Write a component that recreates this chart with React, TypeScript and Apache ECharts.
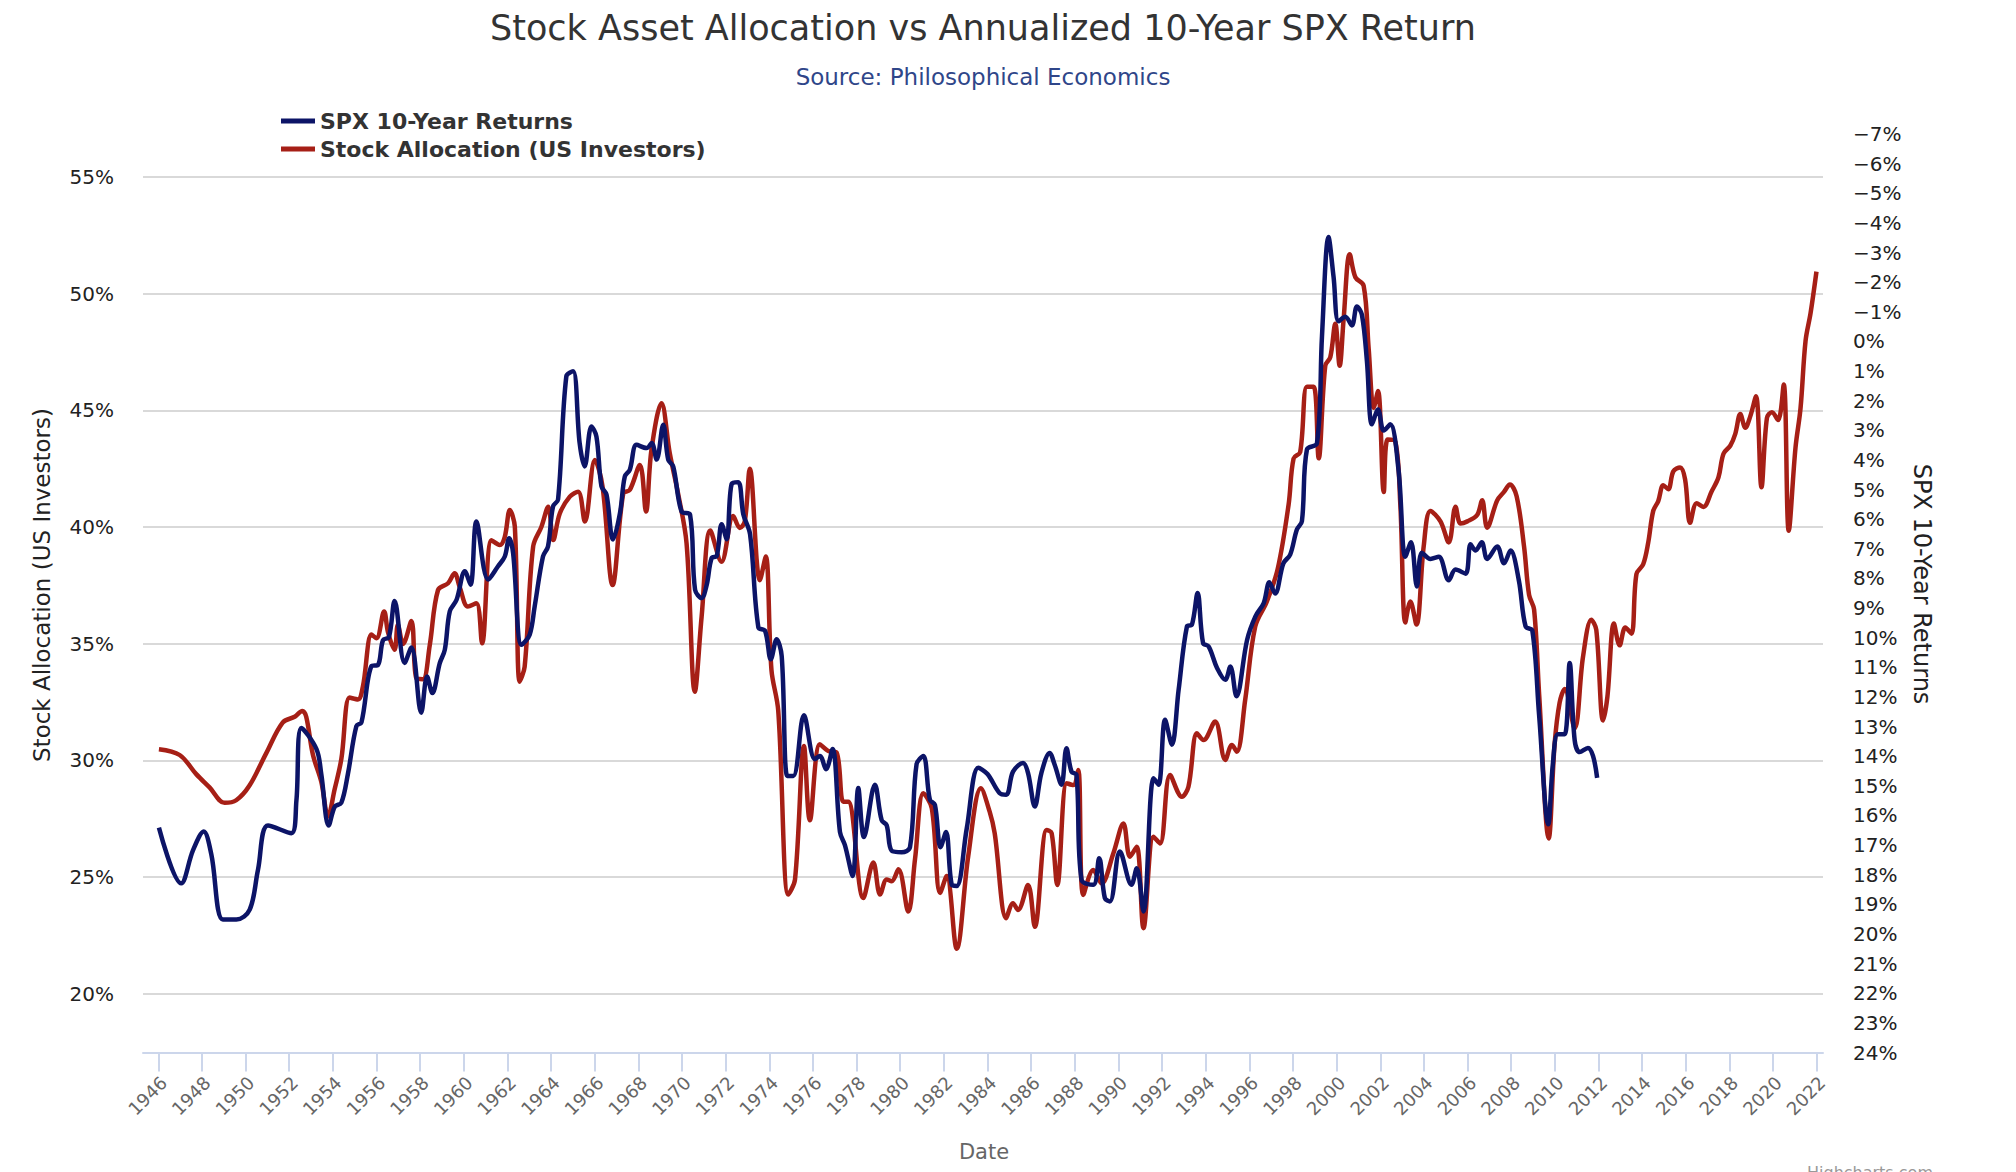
import React, { useEffect, useRef } from "react";
import * as echarts from "echarts";

// ---- Data ----
const xTickYears = [1946, 1948, 1950, 1952, 1954, 1956, 1958, 1960, 1962, 1964, 1966, 1968, 1970, 1972, 1974, 1976, 1978, 1980, 1982, 1984, 1986, 1988, 1990, 1992, 1994, 1996, 1998, 2000, 2002, 2004, 2006, 2008, 2010, 2012, 2014, 2016, 2018, 2020, 2022];

// Stock Allocation (US Investors), % (left axis)
const allocYears = [
  1946.03, 1946.98, 1947.74, 1948.35, 1949.04, 1949.57, 1950.18, 1950.95, 1951.70, 1952.25,
  1952.60, 1952.78, 1953.09, 1953.47, 1953.78, 1954.08, 1954.39, 1954.77, 1955.15, 1955.38,
  1955.77, 1956.00, 1956.35, 1956.53, 1956.83, 1956.98, 1957.22, 1957.60, 1957.83, 1958.13,
  1958.44, 1958.82, 1959.28, 1959.58, 1959.81, 1960.19, 1960.58, 1960.84, 1961.27, 1961.65,
  1961.88, 1962.11, 1962.34, 1962.56, 1962.79, 1963.18, 1963.56, 1963.87, 1964.10, 1964.40,
  1964.86, 1965.24, 1965.55, 1966.01, 1966.36, 1966.82, 1967.31, 1967.61, 1968.07, 1968.35,
  1968.60, 1969.06, 1969.44, 1969.82, 1970.21, 1970.59, 1970.90, 1971.30, 1971.81, 1972.35,
  1972.65, 1972.88, 1973.11, 1973.57, 1973.84, 1974.10, 1974.41, 1974.87, 1975.18, 1975.59,
  1975.86, 1976.32, 1976.71, 1977.09, 1977.39, 1977.62, 1978.31, 1978.77, 1979.08, 1979.38,
  1979.61, 1979.92, 1980.37, 1980.68, 1981.06, 1981.45, 1981.83, 1982.13, 1982.59, 1983.12,
  1983.70, 1984.10, 1984.33, 1984.86, 1985.17, 1985.40, 1985.86, 1986.17, 1986.71, 1986.94,
  1987.20, 1987.63, 1987.93, 1988.16, 1988.39, 1988.85, 1989.23, 1989.77, 1990.23, 1990.53,
  1990.84, 1991.15, 1991.61, 1991.91, 1992.37, 1992.91, 1993.21, 1993.60, 1993.90, 1994.43,
  1994.90, 1995.20, 1995.43, 1995.81, 1996.27, 1996.80, 1997.30, 1997.80, 1998.03, 1998.33,
  1998.64, 1998.95, 1999.18, 1999.48, 1999.71, 1999.94, 2000.14, 2000.32, 2000.60, 2000.86,
  2001.24, 2001.47, 2001.70, 2001.90, 2002.16, 2002.34, 2002.69, 2002.92, 2003.15, 2003.38,
  2003.66, 2003.99, 2004.30, 2004.76, 2005.14, 2005.45, 2005.68, 2005.99, 2006.44, 2006.67,
  2006.90, 2007.36, 2007.67, 2007.94, 2008.25, 2008.59, 2008.82, 2009.05, 2009.28, 2009.72,
  2009.99, 2010.22, 2010.45, 2010.91, 2011.29, 2011.67, 2011.90, 2012.21, 2012.41, 2012.71,
  2012.97, 2013.23, 2013.51, 2013.74, 2014.05, 2014.28, 2014.51, 2014.74, 2014.97, 2015.20,
  2015.43, 2015.74, 2015.97, 2016.20, 2016.50, 2016.81, 2017.19, 2017.50, 2017.73, 2018.04,
  2018.27, 2018.50, 2018.73, 2018.96, 2019.22, 2019.47, 2019.72, 2019.95, 2020.23, 2020.49,
  2020.72, 2021.03, 2021.26, 2021.49, 2021.72, 2021.99
];
const allocValues = [
  30.48, 30.23, 29.41, 28.84, 28.18, 28.29, 28.92, 30.31, 31.62, 31.87,
  32.12, 31.87, 30.23, 29.08, 27.60, 28.75, 30.06, 32.69, 32.61, 33.18,
  35.39, 35.23, 36.38, 35.48, 34.74, 35.81, 34.99, 35.97, 33.51, 33.48,
  34.93, 37.30, 37.59, 38.02, 37.44, 36.59, 36.73, 35.02, 39.43, 39.23,
  39.58, 40.73, 40.01, 33.37, 34.01, 39.16, 40.01, 40.87, 39.44, 40.58,
  41.30, 41.51, 40.23, 42.87, 41.73, 37.51, 41.44, 41.59, 42.66, 40.66,
  43.30, 45.30, 43.16, 41.44, 39.30, 32.94, 36.15, 39.85, 38.51, 40.47,
  39.96, 40.25, 42.50, 37.72, 38.73, 33.88, 32.14, 24.25, 24.90, 30.62,
  27.43, 30.69, 30.40, 30.33, 28.23, 28.23, 24.10, 25.62, 24.25, 24.90,
  24.82, 25.33, 23.52, 25.77, 28.59, 27.94, 24.32, 25.04, 21.93, 25.91,
  28.80, 27.80, 26.88, 23.24, 23.88, 23.59, 24.66, 22.87, 27.02, 26.88,
  24.66, 29.02, 28.94, 29.59, 24.23, 25.30, 24.73, 26.02, 27.30, 25.87,
  26.30, 22.81, 26.73, 26.44, 29.37, 28.44, 28.87, 31.16, 30.87, 31.66,
  30.02, 30.66, 30.37, 32.59, 35.73, 36.80, 38.20, 40.96, 42.94, 43.21,
  46.01, 46.01, 42.94, 46.91, 47.27, 48.71, 46.91, 48.89, 51.69, 50.70,
  50.33, 47.63, 45.11, 45.83, 41.50, 43.75, 43.66, 40.96, 35.91, 36.81,
  35.82, 39.16, 40.69, 40.24, 39.34, 40.87, 40.15, 40.24, 40.51, 41.14,
  39.97, 41.14, 41.50, 41.82, 41.32, 39.16, 37.09, 36.46, 32.85, 26.65,
  30.69, 32.47, 33.06, 31.37, 34.42, 36.03, 35.60, 31.71, 32.73, 35.86,
  34.93, 35.69, 35.43, 37.98, 38.40, 39.33, 40.69, 41.11, 41.79, 41.62,
  42.38, 42.55, 42.04, 40.18, 41.02, 40.86, 41.53, 42.13, 43.14, 43.48,
  43.99, 44.84, 44.25, 44.75, 45.60, 41.70, 44.67, 44.92, 44.58, 46.11,
  39.84, 43.40, 45.09, 47.97, 49.16, 50.94
];

// SPX 10-Year Returns, % (right axis, inverted)
const spxYears = [
  1946.03, 1947.05, 1947.59, 1948.08, 1948.43, 1948.96, 1949.58, 1950.19, 1950.57, 1951.03,
  1952.10, 1952.33, 1952.56, 1953.25, 1953.47, 1953.81, 1954.09, 1954.39, 1954.69, 1955.08,
  1955.31, 1955.77, 1956.07, 1956.30, 1956.57, 1956.83, 1957.29, 1957.60, 1958.05, 1958.32,
  1958.56, 1958.90, 1959.13, 1959.36, 1959.67, 1960.05, 1960.31, 1960.58, 1961.12, 1961.57,
  1961.88, 1962.08, 1962.26, 1962.65, 1963.02, 1963.25, 1963.63, 1963.86, 1964.09, 1964.32,
  1964.70, 1965.01, 1965.31, 1965.54, 1965.85, 1966.08, 1966.31, 1966.54, 1966.84, 1967.16,
  1967.38, 1967.61, 1967.92, 1968.38, 1968.61, 1968.84, 1969.14, 1969.37, 1969.60, 1969.98,
  1970.37, 1970.60, 1970.90, 1971.13, 1971.36, 1971.59, 1971.82, 1972.05, 1972.28, 1972.58,
  1972.81, 1973.12, 1973.50, 1973.81, 1974.07, 1974.34, 1974.57, 1974.83, 1975.10, 1975.59,
  1976.09, 1976.32, 1976.60, 1976.90, 1977.24, 1977.47, 1977.82, 1978.08, 1978.34, 1978.84,
  1979.15, 1979.38, 1979.61, 1980.07, 1980.45, 1980.75, 1981.06, 1981.36, 1981.59, 1981.85,
  1982.10, 1982.36, 1982.59, 1983.05, 1983.58, 1984.00, 1984.55, 1984.86, 1985.17, 1985.63,
  1985.86, 1986.17, 1986.47, 1986.85, 1987.08, 1987.39, 1987.62, 1987.85, 1988.08, 1988.31,
  1988.85, 1989.12, 1989.38, 1989.61, 1990.07, 1990.60, 1990.84, 1991.15, 1991.61, 1991.84,
  1992.14, 1992.45, 1992.76, 1993.14, 1993.37, 1993.63, 1993.88, 1994.14, 1994.52, 1994.90,
  1995.13, 1995.41, 1995.90, 1996.28, 1996.66, 1996.92, 1997.18, 1997.56, 1997.87, 1998.18,
  1998.41, 1998.64, 1999.10, 1999.33, 1999.63, 1999.86, 2000.09, 2000.40, 2000.70, 2000.93,
  2001.16, 2001.39, 2001.62, 2001.90, 2002.16, 2002.46, 2002.84, 2003.15, 2003.41, 2003.68,
  2003.91, 2004.30, 2004.68, 2005.14, 2005.45, 2005.91, 2006.14, 2006.37, 2006.65, 2006.90,
  2007.36, 2007.67, 2007.97, 2008.35, 2008.66, 2008.97, 2009.28, 2009.70, 2009.91, 2010.14,
  2010.45, 2010.68, 2010.91, 2011.14, 2011.52, 2011.75, 2011.94
];
const spxValues = [
  16.41, 18.29, 17.18, 16.54, 17.31, 19.51, 19.51, 19.18, 17.83, 16.34,
  16.60, 15.50, 13.05, 13.76, 14.60, 16.34, 15.70, 15.57, 14.60, 12.98,
  12.86, 10.96, 10.92, 10.08, 9.98, 8.76, 10.85, 10.33, 12.53, 11.31,
  11.87, 10.86, 10.41, 9.11, 8.72, 7.76, 8.21, 6.08, 8.04, 7.59,
  7.26, 6.64, 7.14, 10.24, 9.90, 8.94, 7.26, 6.92, 5.57, 5.34,
  1.18, 1.01, 3.43, 4.22, 2.87, 3.21, 4.89, 5.17, 6.69, 5.79,
  4.56, 4.33, 3.49, 3.60, 3.43, 3.99, 2.81, 3.99, 4.22, 5.74,
  5.85, 8.38, 8.66, 8.23, 7.31, 7.25, 6.17, 6.68, 4.80, 4.75,
  5.83, 6.51, 9.65, 9.77, 10.73, 10.05, 10.62, 14.67, 14.67, 12.62,
  14.10, 13.99, 14.44, 13.76, 16.56, 17.01, 18.04, 15.07, 16.73, 14.96,
  16.16, 16.33, 17.19, 17.24, 17.07, 14.27, 13.99, 15.47, 15.64, 17.07,
  16.56, 18.33, 18.38, 16.44, 14.39, 14.60, 15.24, 15.30, 14.52, 14.23,
  14.57, 15.70, 14.57, 13.89, 14.29, 14.96, 13.73, 14.52, 14.63, 18.17,
  18.34, 17.44, 18.79, 18.90, 17.22, 18.34, 17.78, 19.24, 14.74, 14.96,
  12.77, 13.61, 11.76, 9.62, 9.56, 8.49, 10.18, 10.30, 11.02, 11.42,
  10.97, 11.98, 10.07, 9.28, 8.83, 8.13, 8.51, 7.49, 7.20, 6.35,
  6.07, 3.65, 3.44, -0.18, -3.52, -2.18, -0.68, -0.83, -0.54, -1.18,
  -0.90, 0.67, 2.80, 2.30, 3.01, 2.80, 4.36, 7.27, 6.78, 8.27,
  7.13, 7.34, 7.27, 8.06, 7.70, 7.84, 6.85, 7.06, 6.78, 7.34,
  6.92, 7.49, 7.06, 8.06, 9.62, 9.76, 12.61, 16.30, 14.26, 13.26,
  13.26, 10.85, 13.46, 13.86, 13.72, 13.99, 14.73
];

const FONT = "DejaVu Sans";
const BLUE = "#0c1467";
const RED = "#a61f16";
// Rotated year labels sit a little to the right of their tick in the reference.
const LABEL_NUDGE = 0.25;

export default function App() {
  const ref = useRef<HTMLDivElement>(null);

  useEffect(() => {
    if (!ref.current) return;
    const chart = echarts.init(ref.current, null, { renderer: "svg" });

    const gridLeft = 143;
    const gridRight = 2016 - 1823;
    const xMin = 1945.3;
    const xMax = 2022.29;

    const pct = (v: number) => (v < 0 ? "\u2212" + -v + "%" : v + "%");

    chart.setOption({
      animation: false,
      backgroundColor: "#ffffff",
      textStyle: { fontFamily: FONT },
      title: [
        {
          text: "Stock Asset Allocation vs Annualized 10-Year SPX Return",
          left: 983,
          top: 8,
          textAlign: "center",
          padding: 0,
          textStyle: { fontFamily: FONT, fontSize: 35, fontWeight: "normal", color: "#333333", lineHeight: 40 },
        },
        {
          text: "Source: Philosophical Economics",
          left: 983,
          top: 63,
          textAlign: "center",
          padding: 0,
          textStyle: { fontFamily: FONT, fontSize: 23, fontWeight: "normal", color: "#2f4689", lineHeight: 28 },
        },
      ],
      legend: {
        orient: "vertical",
        left: 281,
        top: 108,
        padding: 0,
        itemGap: 2,
        itemWidth: 34,
        itemHeight: 5,
        icon: "rect",
        data: ["SPX 10-Year Returns", "Stock Allocation (US Investors)"],
        textStyle: { fontFamily: FONT, fontSize: 22, fontWeight: "bold", color: "#333333", lineHeight: 26 },
      },
      grid: [
        { left: gridLeft, right: gridRight, top: 134, bottom: 1172 - 1052.5, containLabel: false },
        { left: gridLeft, right: gridRight, top: 176.9, bottom: 1172 - 993.75, containLabel: false },
      ],
      xAxis: [
        {
          type: "value",
          gridIndex: 0,
          min: xMin,
          max: xMax,
          axisLine: { show: true, onZero: false, lineStyle: { color: "#ccd6eb", width: 2 } },
          axisTick: { show: true, length: 19, lineStyle: { color: "#ccd6eb", width: 2 }, customValues: xTickYears },
          axisLabel: {
            show: true,
            rotate: 45,
            margin: 27,
            color: "#666666",
            fontSize: 18,
            fontFamily: FONT,
            customValues: xTickYears.map((y) => y + LABEL_NUDGE),
            formatter: (v: number) => String(Math.floor(v)),
          },
          splitLine: { show: false },
        },
        {
          type: "value",
          gridIndex: 1,
          min: xMin,
          max: xMax,
          show: false,
          splitLine: { show: false },
        },
      ],
      yAxis: [
        {
          type: "value",
          gridIndex: 0,
          position: "right",
          inverse: true,
          min: -7,
          max: 24,
          interval: 1,
          axisLine: { show: false },
          axisTick: { show: false },
          splitLine: { show: false },
          axisLabel: {
            margin: 30,
            color: "#222222",
            fontSize: 20,
            fontFamily: FONT,
            align: "left",
            formatter: pct,
          },
        },
        {
          type: "value",
          gridIndex: 1,
          position: "left",
          min: 20,
          max: 55,
          interval: 5,
          axisLine: { show: false },
          axisTick: { show: false },
          splitLine: { show: true, lineStyle: { color: "#d9d9d9", width: 2 } },
          axisLabel: {
            margin: 29,
            color: "#222222",
            fontSize: 20,
            fontFamily: FONT,
            formatter: pct,
          },
        },
      ],
      series: [
        {
          name: "SPX 10-Year Returns",
          type: "line",
          xAxisIndex: 0,
          yAxisIndex: 0,
          data: spxYears.map((y, i) => [y, spxValues[i]]),
          symbol: "none",
          smooth: 0.35,
          z: 4,
          lineStyle: { color: BLUE, width: 4.5 },
          itemStyle: { color: BLUE },
        },
        {
          name: "Stock Allocation (US Investors)",
          type: "line",
          xAxisIndex: 1,
          yAxisIndex: 1,
          data: allocYears.map((y, i) => [y, allocValues[i]]),
          symbol: "none",
          smooth: 0.35,
          z: 3,
          lineStyle: { color: RED, width: 4.5 },
          itemStyle: { color: RED },
        },
      ],
      graphic: [
        {
          type: "text",
          x: 42,
          y: 585,
          rotation: Math.PI / 2,
          style: {
            text: "Stock Allocation (US Investors)",
            fontFamily: FONT,
            fontSize: 23,
            fill: "#222222",
            align: "center",
            verticalAlign: "middle",
            textAlign: "center",
            textVerticalAlign: "middle",
          },
        },
        {
          type: "text",
          x: 1922,
          y: 584,
          rotation: -Math.PI / 2,
          style: {
            text: "SPX 10-Year Returns",
            fontFamily: FONT,
            fontSize: 24,
            fill: "#222222",
            align: "center",
            verticalAlign: "middle",
            textAlign: "center",
            textVerticalAlign: "middle",
          },
        },
        {
          type: "text",
          x: 984,
          y: 1152,
          style: {
            text: "Date",
            fontFamily: FONT,
            fontSize: 21,
            fill: "#666666",
            align: "center",
            verticalAlign: "middle",
            textAlign: "center",
            textVerticalAlign: "middle",
          },
        },
        {
          type: "text",
          x: 1807,
          y: 1164,
          style: {
            text: "Highcharts.com",
            fontFamily: FONT,
            fontSize: 16,
            fill: "#999999",
            align: "left",
            verticalAlign: "top",
            textAlign: "left",
            textVerticalAlign: "top",
          },
        },
      ],
    });

    return () => {
      chart.dispose();
    };
  }, []);

  return (
    <div
      ref={ref}
      style={{ position: "absolute", left: 0, top: 0, width: 2016, height: 1172 }}
    />
  );
}
